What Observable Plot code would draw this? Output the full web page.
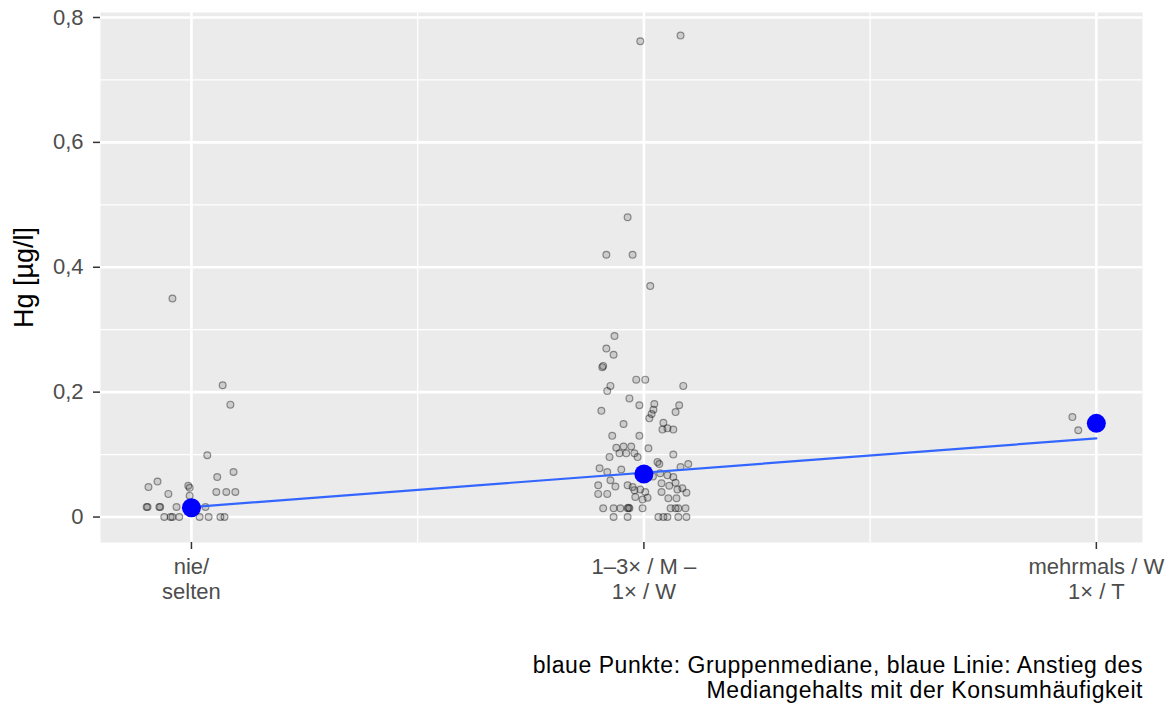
<!DOCTYPE html>
<html>
<head>
<meta charset="utf-8">
<script src="https://cdn.jsdelivr.net/npm/d3@7"></script>
<script src="https://cdn.jsdelivr.net/npm/@observablehq/plot@0.6"></script>
<style>
  html, body { margin: 0; padding: 0; background: #fff; }
  #chart { width: 1168px; }
  #caption {
    width: 1143px; margin-top: 43px; text-align: right;
    font-family: "Liberation Sans", Arial, sans-serif; font-size: 23px; letter-spacing: 0.55px; line-height: 25px; color: #000;
  }
</style>
</head>
<body>
<div id="chart"></div>
<div id="caption">blaue Punkte: Gruppenmediane, blaue Linie: Anstieg des<br>Mediangehalts mit der Konsumhäufigkeit</div>
<script>
// Categories (x positions 1, 2, 3)
const categories = ["nie/\nselten", "1–3× / M –\n1× / W", "mehrmals / W\n1× / T"];
const yTicks = [0, 0.2, 0.4, 0.6, 0.8];
const yMinor = [0.1, 0.3, 0.5, 0.7];
const xMinor = [1.5, 2.5];

// Group 1: nie/selten — jitter offset (category units) and Hg value
const g1Jitter = [-0.042, 0.069, 0.086, 0.035, 0.093, 0.057, -0.075, -0.095, -0.007, -0.004, -0.051, -0.004, 0.055, 0.077, 0.097, -0.099, -0.097, -0.071, -0.069, -0.033, 0.031, -0.060, -0.046, -0.042, -0.027, 0.018, 0.038, 0.064, 0.073, 0.000, 0.010];
const g1Hg     = [0.35, 0.211, 0.18, 0.099, 0.072, 0.064, 0.057, 0.048, 0.05, 0.047, 0.037, 0.034, 0.04, 0.04, 0.04, 0.016, 0.016, 0.016, 0.016, 0.016, 0.016, 0, 0, 0, 0, 0, 0, 0, 0, 0.02, 0.01];

// Group 2: 1–3×/M – 1×/W
const g2Jitter = [-0.008, 0.081, -0.036, -0.083, -0.025, 0.014, -0.065, -0.083, -0.067, -0.092, -0.090, -0.017, 0.003, -0.074, -0.081, 0.087, -0.032, -0.010, 0.023, 0.021, 0.017, 0.012, 0.078, 0.070, -0.094, -0.045, 0.043, 0.041, 0.052, 0.065, -0.070, -0.010, 0.010, -0.061, -0.045, -0.028, -0.054, -0.039, -0.021, -0.014, -0.076, 0.065, 0.030, 0.034, 0.081, 0.098, -0.098, -0.081, -0.050, 0.036, 0.052, 0.065, -0.074, -0.101, -0.101, -0.063, -0.036, -0.025, -0.021, -0.008, 0.003, 0.039, 0.039, 0.056, 0.070, 0.074, 0.085, 0.094, -0.081, 0.008, -0.003, -0.019, 0.054, 0.072, -0.090, -0.067, -0.052, -0.036, -0.034, -0.032, -0.003, 0.059, 0.070, 0.076, 0.092, -0.067, -0.036, 0.032, 0.043, 0.052, 0.076, 0.094, -0.010, 0.020];
const g2Hg     = [0.762, 0.771, 0.48, 0.42, 0.42, 0.37, 0.29, 0.27, 0.26, 0.24, 0.242, 0.22, 0.22, 0.21, 0.202, 0.21, 0.19, 0.179, 0.181, 0.172, 0.165, 0.158, 0.179, 0.168, 0.17, 0.149, 0.151, 0.14, 0.142, 0.14, 0.13, 0.13, 0.11, 0.111, 0.113, 0.113, 0.102, 0.102, 0.102, 0.096, 0.096, 0.10, 0.088, 0.085, 0.08, 0.085, 0.078, 0.072, 0.076, 0.07, 0.067, 0.064, 0.059, 0.051, 0.037, 0.049, 0.051, 0.048, 0.043, 0.044, 0.04, 0.054, 0.04, 0.05, 0.055, 0.044, 0.046, 0.039, 0.037, 0.031, 0.028, 0.032, 0.03, 0.03, 0.014, 0.014, 0.014, 0.014, 0.015, 0.014, 0.014, 0.014, 0.014, 0.014, 0.014, 0, 0, 0, 0, 0, 0, 0, 0.07, 0.065];

// Group 3: mehrmals/W – 1×/T
const g3Jitter = [-0.053, -0.040];
const g3Hg     = [0.16, 0.139];

// Group medians and fitted trend (value at first and last category)
const medians = [0.015, 0.069, 0.15];
const trendX = [1, 3];
const trendY = [0.016, 0.126];

// Build point table
const points = [];
[[g1Jitter, g1Hg], [g2Jitter, g2Hg], [g3Jitter, g3Hg]].forEach(([jx, hy], gi) => {
  jx.forEach((j, k) => points.push({x: gi + 1 + j, y: hy[k]}));
});
const medianData = medians.map((m, i) => ({x: i + 1, y: m}));
const trendData = trendX.map((x, i) => ({x, y: trendY[i]}));

const fmt = d => d === 0 ? "0" : d.toFixed(1).replace(".", ",");

const chart = Plot.plot({
  width: 1168,
  height: 610,
  marginLeft: 100,
  marginRight: 26,
  marginTop: 12,
  marginBottom: 68,
  style: {fontFamily: "'Liberation Sans', Arial, sans-serif", fontSize: "22px", background: "#fff", overflow: "visible"},
  x: {type: "linear", domain: [0.799, 3.102], axis: null},
  y: {type: "linear", domain: [-0.0408, 0.808], axis: null},
  marks: [
    Plot.frame({fill: "#EBEBEB", stroke: "none"}),
    Plot.ruleY(yMinor, {stroke: "#fff", strokeWidth: 1.3}),
    Plot.ruleX(xMinor, {stroke: "#fff", strokeWidth: 1.3}),
    Plot.ruleY(yTicks, {stroke: "#fff", strokeWidth: 2.6}),
    Plot.ruleX([1, 2, 3], {stroke: "#fff", strokeWidth: 2.6}),
    Plot.dot(points, {x: "x", y: "y", r: 3.4, fill: "#000", fillOpacity: 0.13, stroke: "#000", strokeOpacity: 0.4, strokeWidth: 1.2}),
    Plot.line(trendData, {x: "x", y: "y", stroke: "#3366FF", strokeWidth: 2.2}),
    Plot.dot(medianData, {x: "x", y: "y", r: 9.5, fill: "#0000FF", stroke: "none"}),
    Plot.axisY({ticks: yTicks, tickFormat: fmt, tickSize: 7, tickPadding: 10, fontSize: 22, fill: "#4D4D4D", stroke: "#333", strokeWidth: 1.5, label: null}),
    Plot.axisX({ticks: [1, 2, 3], tickFormat: d => categories[Math.round(d) - 1], tickSize: 7, tickPadding: 7, fontSize: 22, lineHeight: 1.14, fill: "#4D4D4D", stroke: "#333", strokeWidth: 1.5, label: null}),
    Plot.text(["Hg [µg/l]"], {frameAnchor: "left", dx: -76, rotate: -90, text: d => d, fontSize: 27, fill: "#000", textAnchor: "middle", lineAnchor: "middle"})
  ]
});
document.getElementById("chart").appendChild(chart);
</script>
</body>
</html>
